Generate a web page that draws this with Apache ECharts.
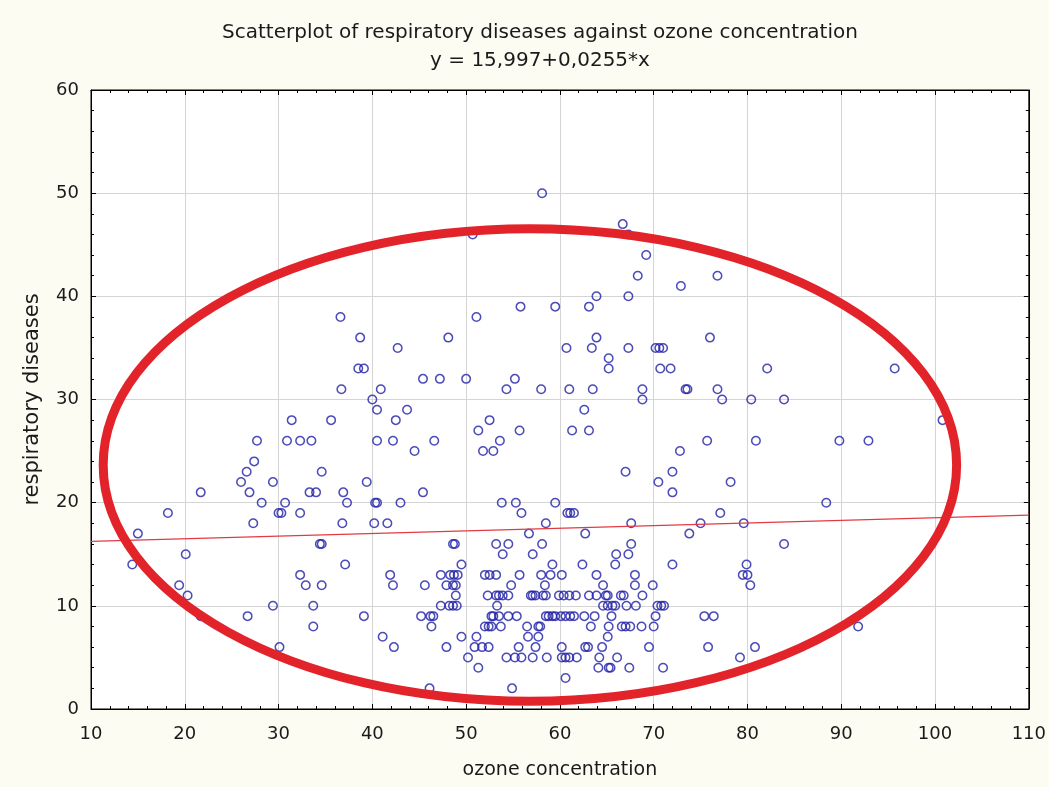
<!DOCTYPE html>
<html><head><meta charset="utf-8">
<script src="https://cdn.jsdelivr.net/npm/echarts@6/dist/echarts.min.js"></script>
<style>html,body{margin:0;padding:0;background:#fdfcf2;}#c{width:1049px;height:787px;}</style>
</head><body><div id="c"></div>
<script>
// ozone concentration (x) and respiratory diseases (y), grouped by y level
const yLevels = [50,47,46,44,42,41,40,39,38,36,35,34,33,32,31,30,29,28,27,26,25,24,23,22,21,20,19,18,17,16,15,14,13,12,11,10,9,8,7,6,5,4,3,2];
const xByLevel = [
  [58.1],
  [66.7],
  [67.3,50.7],
  [69.2],
  [68.3,76.8],
  [72.9],
  [63.9,67.3],
  [55.8,59.5,63.1],
  [36.6,51.1],
  [38.7,48.1,63.9,76.0],
  [42.7,60.7,63.4,67.3,70.2,70.6,71.0],
  [65.2],
  [38.5,39.1,65.2,70.7,71.8,82.1,95.7],
  [45.4,47.2,50.0,55.2],
  [36.7,40.9,54.3,58.0,61.0,63.5,68.8,73.4,73.6,76.8],
  [40.0,68.8,77.3,80.4,83.9],
  [40.5,43.7,62.6],
  [31.4,35.6,42.5,52.5,100.8],
  [51.3,55.7,61.3,63.1],
  [27.7,30.9,32.3,33.5,40.5,42.2,46.6,53.6,75.7,80.9,89.8,92.9],
  [44.5,51.8,52.9,72.8],
  [27.4],
  [26.6,34.6,67.0,72.0],
  [26.0,29.4,39.4,70.5,78.2],
  [21.7,26.9,33.3,34.0,36.9,45.4,72.0],
  [28.2,30.7,37.3,40.3,40.5,43.0,53.8,55.3,59.5,88.4],
  [18.2,30.0,30.3,32.3,55.9,60.8,61.1,61.5,77.1],
  [27.3,36.8,40.2,41.6,58.5,67.6,75.0,79.6],
  [15.0,56.7,62.7,73.8],
  [34.4,34.6,48.6,48.8,53.2,54.5,58.1,67.6,83.9],
  [20.1,53.9,57.1,66.0,67.3],
  [14.4,37.1,49.5,59.2,62.4,65.9,72.0,79.9],
  [32.3,41.9,47.3,48.3,48.7,49.1,52.0,52.5,53.2,55.7,58.0,59.0,60.2,63.9,68.0,79.5,80.0],
  [19.4,32.9,34.6,42.2,45.6,47.9,48.6,48.9,54.8,58.4,64.6,68.0,69.9,80.3],
  [20.3,48.9,52.3,53.2,53.5,53.9,54.5,56.9,57.1,57.4,58.2,58.5,59.9,60.4,61.0,61.7,63.1,63.9,64.9,65.1,66.5,66.8,68.8],
  [29.4,33.7,47.3,48.2,48.6,49.0,53.3,64.6,65.1,65.6,65.9,67.1,68.1,70.4,70.8,71.1],
  [21.7,26.7,39.1,45.2,46.2,46.5,52.7,52.9,53.5,54.5,55.4,58.5,58.8,59.2,59.5,60.1,60.6,61.1,61.5,62.6,63.7,65.5,70.2,75.4,76.4],
  [33.7,46.3,52.0,52.4,52.7,53.7,56.5,57.7,57.9,63.3,65.2,66.6,67.0,67.5,68.7,70.0,91.8],
  [41.1,49.5,51.1,56.6,57.7,65.1],
  [30.1,42.3,47.9,50.9,51.7,52.4,55.6,57.4,60.2,62.7,63.0,64.5,69.5,75.8,80.8],
  [50.2,54.3,55.2,55.9,57.1,58.6,60.2,60.6,61.0,61.8,64.2,66.1,79.2],
  [51.3,64.1,65.2,65.4,67.4,71.0],
  [60.6],
  [46.1,54.9]
];
// fitted line end points
const fitX = [10, 110];
const fitY = [16.25, 18.80];
// annotation ellipse (data units): center and radii
const ellipseCenter = [56.8, 23.65];
const ellipseRadii = [45.5, 22.9];
const xTicks = [10,20,30,40,50,60,70,80,90,100,110];
const yTicks = [0,10,20,30,40,50,60];

const points = [];
yLevels.forEach((y, i) => xByLevel[i].forEach(x => points.push([x, y])));

const FONT = 'DejaVu Sans';
const chart = echarts.init(document.getElementById('c'), null, {renderer: 'canvas'});
const axisCommon = {
  axisLine: {show: true, onZero: false, lineStyle: {color: '#000', width: 1}},
  axisTick: {show: true, inside: true, length: 5, lineStyle: {color: '#000'}},
  minorTick: {show: true, splitNumber: 5, length: 3, lineStyle: {color: '#000'}},
};
chart.setOption({
  backgroundColor: '#fdfcf2',
  animation: false,
  title: {
    text: 'Scatterplot of respiratory diseases against ozone concentration\ny = 15,997+0,0255*x',
    left: 535, top: 14, textAlign: 'center',
    textStyle: {fontFamily: FONT, fontSize: 20, fontWeight: 'normal', color: '#1a1a1a', lineHeight: 28}
  },
  grid: {left: 91, right: 18, top: 90, bottom: 78, show: true, backgroundColor: '#fff', borderColor: '#000', borderWidth: 1},
  xAxis: [
    Object.assign({
      type: 'value', min: 10, max: 110, interval: 10,
      name: 'ozone concentration', nameLocation: 'middle', nameGap: 52,
      nameTextStyle: {fontFamily: FONT, fontSize: 19, color: '#1a1a1a'},
      axisLabel: {fontFamily: FONT, fontSize: 18, color: '#1a1a1a', margin: 16},
      splitLine: {show: true, lineStyle: {color: '#d4d4d4', width: 1}}
    }, axisCommon),
    Object.assign({
      type: 'value', min: 10, max: 110, interval: 10, position: 'top',
      axisLabel: {show: false}, splitLine: {show: false}
    }, axisCommon)
  ],
  yAxis: [
    Object.assign({
      type: 'value', min: 0, max: 60, interval: 10,
      name: 'respiratory diseases', nameLocation: 'middle', nameGap: 48,
      nameTextStyle: {fontFamily: FONT, fontSize: 21, color: '#1a1a1a'},
      axisLabel: {fontFamily: FONT, fontSize: 18, color: '#1a1a1a', margin: 12},
      splitLine: {show: true, lineStyle: {color: '#d4d4d4', width: 1}}
    }, axisCommon),
    Object.assign({
      type: 'value', min: 0, max: 60, interval: 10, position: 'right',
      axisLabel: {show: false}, splitLine: {show: false}
    }, axisCommon)
  ],
  series: [
    {
      type: 'scatter', data: points, symbol: 'circle', symbolSize: 8.5,
      itemStyle: {color: 'rgba(255,255,255,0)', borderColor: '#1f1fa8', borderWidth: 1.5},
      z: 3
    },
    {
      type: 'line', data: fitX.map((x, i) => [x, fitY[i]]), symbol: 'none',
      lineStyle: {color: '#e23a42', width: 1.2}, z: 4
    }
  ]
});

const c = chart.convertToPixel({xAxisIndex: 0, yAxisIndex: 0}, ellipseCenter);
const e = chart.convertToPixel({xAxisIndex: 0, yAxisIndex: 0}, [ellipseCenter[0] + ellipseRadii[0], ellipseCenter[1] + ellipseRadii[1]]);
chart.setOption({
  graphic: [{
    type: 'ellipse', z: 100,
    shape: {cx: c[0], cy: c[1], rx: Math.abs(e[0] - c[0]), ry: Math.abs(e[1] - c[1])},
    style: {fill: null, stroke: '#e3232a', lineWidth: 9}
  }]
});
</script>
</body></html>
